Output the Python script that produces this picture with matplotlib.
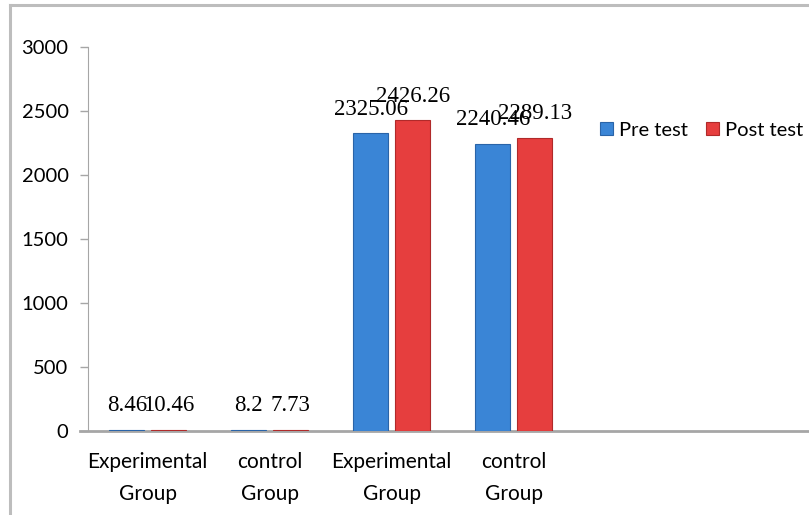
import numpy as np
import matplotlib.pyplot as plt
from matplotlib.lines import Line2D

# data
categories = ["Experimental\nGroup", "control\nGroup", "Experimental\nGroup", "control\nGroup"]
pre_test = [8.46, 8.2, 2325.06, 2240.46]
post_test = [10.46, 7.73, 2426.26, 2289.13]
pre_labels = ["8.46", "8.2", "2325.06", "2240.46"]
post_labels = ["10.46", "7.73", "2426.26", "2289.13"]
y_ticks = [0, 500, 1000, 1500, 2000, 2500, 3000]

W, H = 809, 515
BLUE = "#3a85d6"
BLUE_EDGE = "#2a64a8"
RED = "#e63e3e"
RED_EDGE = "#b02a2a"
GRID_GRAY = "#a6a6a6"

fig = plt.figure(figsize=(W / 100, H / 100), dpi=100)

# outer chart frame (right/bottom edges fall outside the picture)
fig.add_artist(Line2D([10 / W, 1.0], [1 - 5 / H, 1 - 5 / H], color="#bdbdbd", lw=2.2,
                      transform=fig.transFigure))
fig.add_artist(Line2D([10 / W, 10 / W], [0, 1 - 5 / H], color="#bdbdbd", lw=2.2,
                      transform=fig.transFigure))

ax = fig.add_axes([88 / W, (H - 431) / H, (W - 88) / W, 384 / H])

x = np.arange(len(categories))
width = 0.285
offset = 0.172

ax.bar(x - offset, pre_test, width, color=BLUE, edgecolor=BLUE_EDGE, linewidth=0.8,
       label="Pre test", zorder=3)
ax.bar(x + offset, post_test, width, color=RED, edgecolor=RED_EDGE, linewidth=0.8,
       label="Post test", zorder=3)

label_font = dict(family="Liberation Serif", fontsize=16.5, color="black")
for xi, v, s in zip(x - offset, pre_test, pre_labels):
    ax.annotate(s, (xi, v), xytext=(0, 10), textcoords="offset points",
                ha="center", va="bottom", zorder=5, **label_font)
for xi, v, s in zip(x + offset, post_test, post_labels):
    ax.annotate(s, (xi, v), xytext=(0, 10), textcoords="offset points",
                ha="center", va="bottom", zorder=6, **label_font)

ax.set_xlim(-0.49, (W - 88) / 122 - 0.49)
ax.set_ylim(0, 3000)
ax.set_yticks(y_ticks)
ax.set_xticks(x)
ax.set_xticklabels(categories, family="Lato", fontsize=15, linespacing=1.75)
for lbl in ax.get_yticklabels():
    lbl.set_family("Lato")
    lbl.set_fontsize(14.5)

ax.tick_params(axis="y", length=6, width=1, color=GRID_GRAY, pad=8)
ax.tick_params(axis="x", length=0, pad=15)

for side in ["top", "right"]:
    ax.spines[side].set_visible(False)
ax.spines["left"].set_color(GRID_GRAY)
ax.spines["bottom"].set_color(GRID_GRAY)
ax.spines["bottom"].set_linewidth(2)
ax.spines["bottom"].set_bounds(-0.49 - 8 / 122, (W - 88) / 122)

ax.legend(loc="center left", bbox_to_anchor=(600 / W, 1 - 130 / H),
          bbox_transform=fig.transFigure, ncol=2, frameon=False,
          prop={"family": "Lato", "size": 14.5}, handlelength=0.65, handleheight=0.6,
          handletextpad=0.3, columnspacing=0.9, borderaxespad=0, borderpad=0)

fig.savefig("out.png", dpi=100)
